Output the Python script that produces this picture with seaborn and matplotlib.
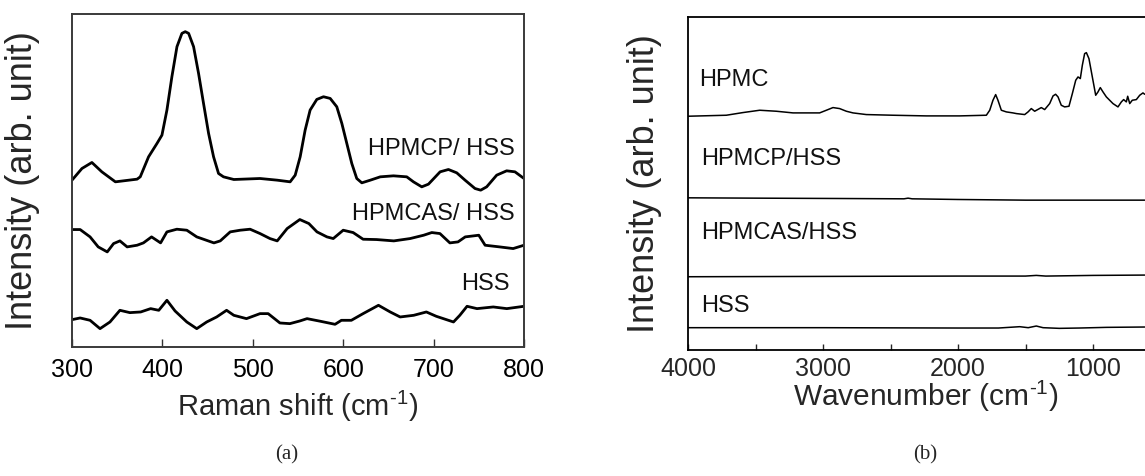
import numpy as np
import pandas as pd
import matplotlib
matplotlib.use("Agg")
import matplotlib.pyplot as plt
import seaborn as sns
from matplotlib.ticker import MultipleLocator

# ---------------- data: panel (a) Raman ----------------
raman_hpmcp_x = [300, 311, 322, 333, 348, 372, 375.5, 384.7, 394.0, 399.5, 405.0, 410.5, 416.1,
                 421.6, 425.3, 429.0, 434.5, 440.0, 445.5, 451.1, 456.6, 462.1, 467.6, 479, 508,
                 527, 541.3, 546.9, 552.4, 557.9, 563.4, 570.8, 578.2, 585.6, 592.9, 598.5, 604.0,
                 609.5, 615.0, 620.6, 630, 641, 655.6, 670.3, 677.7, 686.9, 694.3, 707.2, 716.4,
                 725.6, 734.8, 745.8, 752.1, 758.7, 769.8, 780.8, 790.0, 800]
raman_hpmcp_y = [50.0, 53.5, 55.3, 52.5, 49.5, 50.3, 51.0, 57.0, 61.0, 63.5, 71.0, 81.0, 90.0,
                 94.0, 94.5, 94.0, 90.0, 82.0, 73.0, 64.0, 57.0, 52.0, 51.0, 50.2, 50.5,
                 50.0, 49.5, 51.5, 57.0, 65.0, 71.0, 74.2, 75.0, 74.5, 72.0, 67.0, 61.0,
                 55.0, 50.5, 49.2, 50.0, 51.0, 51.3, 51.0, 49.5, 48.0, 48.8, 52.5, 53.2,
                 52.2, 50.0, 47.5, 47.0, 48.0, 51.5, 52.8, 52.5, 50.5]

raman_hpmcas_x = [300, 309, 320, 329, 339, 346, 353, 361, 372, 379, 388, 398, 405, 416, 427, 438,
                  457, 464, 475, 486, 497, 508, 519, 527, 538, 552, 562, 571, 582, 589, 600, 611,
                  622, 637, 656, 674, 689, 698, 707, 718, 727, 735, 750, 757, 773, 788, 800]
raman_hpmcas_y = [35.2, 35.2, 33.0, 30.0, 28.5, 31.0, 31.8, 30.0, 30.5, 31.2, 33.0, 31.2, 34.5, 35.3,
                  35.0, 33.0, 31.2, 31.8, 34.5, 35.0, 35.3, 34.0, 32.5, 31.8, 35.5, 38.2, 37.0, 34.5,
                  33.0, 32.5, 35.0, 34.3, 32.3, 32.2, 31.8, 32.5, 33.5, 34.3, 34.0, 31.2, 31.5, 33.0,
                  33.5, 30.5, 30.0, 29.5, 30.5]

raman_hss_x = [300, 309, 320, 331, 342, 353, 364, 376, 387, 396, 405, 414, 427, 438, 449, 460, 471,
               479, 493, 508, 517, 530, 541, 552, 560, 575, 591, 598, 609, 622, 639, 652, 663, 678,
               692, 703, 722, 729, 737, 748, 766, 781, 800]
raman_hss_y = [8.2, 8.7, 8.0, 5.5, 7.5, 11.0, 10.3, 10.5, 11.5, 11.0, 14.0, 10.8, 7.5, 5.5, 7.5, 9.0,
               11.0, 9.5, 8.5, 10.0, 10.0, 7.2, 7.0, 7.8, 8.5, 7.7, 6.8, 8.0, 8.0, 10.0, 12.5, 10.5,
               9.0, 9.5, 10.5, 9.2, 7.5, 9.5, 12.2, 11.5, 12.0, 11.5, 12.2]

raman_labels = ["HPMCP/ HSS", "HPMCAS/ HSS", "HSS"]
raman_label_x = [790, 790, 784]
raman_label_y = [57.5, 38.2, 17.0]
raman_ticks = [300, 400, 500, 600, 700, 800]

# ---------------- data: panel (b) IR ----------------
ir_hpmc_x = [4000, 3716, 3593, 3469, 3346, 3222, 3025, 2975, 2926, 2877, 2827, 2778, 2679, 2481,
             2235, 1988, 1790, 1765, 1741, 1721, 1704, 1679, 1642, 1593, 1568, 1506, 1481, 1457,
             1432, 1383, 1358, 1321, 1296, 1277, 1259, 1235, 1210, 1178, 1153, 1128, 1111, 1094,
             1079, 1062, 1049, 1030, 1005, 980, 963, 946, 926, 901, 852, 815, 790, 773, 753, 743,
             728, 709, 679, 654, 630, 617]
ir_hpmc_y = [70.2, 70.5, 71.3, 72.0, 71.7, 71.2, 71.2, 72.0, 72.8, 72.5, 71.7, 71.2, 70.7, 70.5,
             70.3, 70.3, 70.5, 72.0, 75.0, 76.7, 75.0, 72.0, 71.5, 71.2, 71.0, 70.7, 71.5, 72.5,
             71.7, 72.8, 72.2, 74.0, 76.3, 76.8, 76.0, 73.5, 73.0, 73.2, 77.0, 81.0, 82.0, 81.5,
             85.5, 89.0, 89.3, 87.5, 82.0, 76.5, 77.5, 78.8, 77.5, 76.0, 74.0, 73.0, 74.5, 75.2,
             74.5, 76.2, 74.0, 75.0, 75.2, 76.5, 77.2, 76.8]

ir_hpmcp_x = [4000, 3500, 2900, 2400, 2370, 2340, 2000, 1500, 1000, 617]
ir_hpmcp_y = [45.7, 45.6, 45.5, 45.4, 45.6, 45.4, 45.2, 45.0, 45.0, 45.0]

ir_hpmcas_x = [4000, 3000, 2000, 1500, 1420, 1350, 1000, 617]
ir_hpmcas_y = [22.0, 22.1, 22.2, 22.2, 22.4, 22.2, 22.4, 22.5]

ir_hss_x = [4000, 3000, 2000, 1700, 1543, 1480, 1420, 1370, 1250, 1100, 900, 617]
ir_hss_y = [6.7, 6.7, 6.6, 6.6, 7.0, 6.7, 7.2, 6.7, 6.5, 6.6, 6.8, 6.9]

ir_labels = ["HPMC", "HPMCP/HSS", "HPMCAS/HSS", "HSS"]
ir_label_x = [3914, 3905, 3905, 3905]
ir_label_y = [79.2, 55.5, 33.3, 11.5]
ir_major_ticks = [4000, 3000, 2000, 1000]

# ---------------- style ----------------
sns.set_style("ticks")
plt.rcParams["font.family"] = ["Liberation Sans", "DejaVu Sans"]
plt.rcParams["mathtext.fontset"] = "custom"
plt.rcParams["mathtext.rm"] = "Liberation Sans"
plt.rcParams["mathtext.it"] = "Liberation Sans:italic"
plt.rcParams["mathtext.bf"] = "Liberation Sans:bold"

fig = plt.figure(figsize=(11.45, 4.76), dpi=100)
W, H = 1145, 476

def px_axes(l, t, r, b):
    return [l / W, 1 - b / H, (r - l) / W, (b - t) / H]

ax1 = fig.add_axes(px_axes(72, 14, 524, 347))
ax2 = fig.add_axes(px_axes(688, 17, 1174, 350))

# panel (a)
for xs, ys in [(raman_hpmcp_x, raman_hpmcp_y), (raman_hpmcas_x, raman_hpmcas_y),
               (raman_hss_x, raman_hss_y)]:
    df = pd.DataFrame({"x": xs, "y": ys})
    sns.lineplot(data=df, x="x", y="y", ax=ax1, color="black", linewidth=2.0,
                 sort=False, estimator=None)
for ln in ax1.lines:
    ln.set_solid_joinstyle("round")
    ln.set_solid_capstyle("round")
for lab, lx, ly in zip(raman_labels, raman_label_x, raman_label_y):
    ax1.text(lx, ly, lab, ha="right", va="baseline", fontsize=17, color="#111111")
ax1.set_xlim(300, 800)
ax1.set_ylim(0, 99.8)
ax1.set_xticks(raman_ticks)
ax1.set_yticks([])
ax1.tick_params(axis="x", direction="in", length=6, width=1.0, labelsize=18, pad=8,
                colors="#333333", labelcolor="black")
for sp in ax1.spines.values():
    sp.set_visible(True)
    sp.set_color("#3a3a3a")
    sp.set_linewidth(1.4)
ax1.set_xlabel(r"Raman shift (cm$^{\text{-1}}$)", fontsize=21)
ax1.set_ylabel("Intensity (arb. unit)", fontsize=26)
ax1.xaxis.set_label_coords(0.5, -0.125)
ax1.yaxis.set_label_coords(-0.07, 0.5)

# panel (b)
for xs, ys in [(ir_hpmc_x, ir_hpmc_y), (ir_hpmcp_x, ir_hpmcp_y),
               (ir_hpmcas_x, ir_hpmcas_y), (ir_hss_x, ir_hss_y)]:
    df = pd.DataFrame({"x": xs, "y": ys})
    sns.lineplot(data=df, x="x", y="y", ax=ax2, color="black", linewidth=1.1,
                 sort=False, estimator=None)
for lab, lx, ly in zip(ir_labels, ir_label_x, ir_label_y):
    ax2.text(lx, ly, lab, ha="left", va="baseline", fontsize=17, color="#111111")
ax2.set_xlim(4000, 400)
ax2.set_ylim(0, 100)
ax2.set_xticks(ir_major_ticks)
ax2.xaxis.set_minor_locator(MultipleLocator(500))
ax2.set_yticks([])
ax2.tick_params(axis="x", which="both", direction="in", length=4, width=1.0,
                labelsize=18, pad=5)
for sp in ax2.spines.values():
    sp.set_visible(True)
    sp.set_color("black")
    sp.set_linewidth(1.3)
ax2.set_xlabel(r"Wavenumber (cm$^{\text{-1}}$)", fontsize=21.5)
ax2.set_ylabel("Intensity (arb. unit)", fontsize=26)
ax2.xaxis.set_label_coords((926 - 688) / 486, -0.087)
ax2.yaxis.set_label_coords(-0.053, 0.5)

fig.text(287 / W, 1 - 455 / H, "(a)", ha="center", va="center", fontsize=15,
         family=["Liberation Serif", "DejaVu Serif"])
fig.text(925 / W, 1 - 455 / H, "(b)", ha="center", va="center", fontsize=15,
         family=["Liberation Serif", "DejaVu Serif"])

fig.savefig("out.png", dpi=100, facecolor="white")
